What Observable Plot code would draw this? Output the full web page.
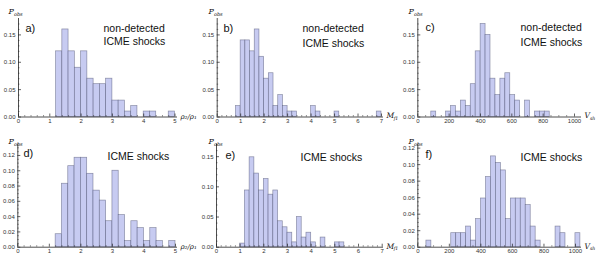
<!DOCTYPE html>
<html><head><meta charset="utf-8">
<script src="https://cdn.jsdelivr.net/npm/d3@7"></script>
<script src="https://cdn.jsdelivr.net/npm/@observablehq/plot@0.6"></script>
<style>
body{margin:0;background:#fff}
#wrap{position:relative;width:600px;height:260px;overflow:hidden;background:#fff}
#wrap > div{position:absolute;width:200px;height:130px}
#wrap svg{overflow:visible}
</style></head><body><div id="wrap"></div>
<script>
// ---------------- data ----------------
const panelLetters = ["a)", "b)", "c)", "d)", "e)", "f)"];
const groupTop = ["non-detected", "ICME shocks"];
const groupBottom = ["ICME shocks"];

// bins: start, width, probability per bin
const rhoBinStart = 1.2, rhoBinWidth = 0.2;
const machBinStartB = 0.8, machBinStartE = 1.0, machBinWidth = 0.2;
const speedBinStart = 54.5, speedBinWidth = 31.5;

const probA = [0.12, 0.16, 0.12, 0.09, 0.12, 0.07, 0.06, 0.06, 0.07, 0.03, 0.03, 0.01, 0.02, 0, 0.01, 0.01, 0, 0, 0.01];
const probB = [0.02, 0.14, 0.14, 0.12, 0.16, 0.11, 0.07, 0.08, 0.02, 0.04, 0.02, 0.01, 0.01, 0, 0, 0, 0.02, 0.01, 0, 0, 0, 0.01, 0, 0, 0, 0, 0, 0, 0, 0, 0.01];
const probC = [0, 0.01, 0, 0, 0.01, 0.02, 0.01, 0.03, 0.02, 0.06, 0.12, 0.17, 0.15, 0.07, 0.04, 0.07, 0.08, 0.04, 0.03, 0, 0.03, 0, 0.01, 0.01, 0.01];
const probD = [0.017, 0.083, 0.106, 0.117, 0.117, 0.096, 0.074, 0.061, 0.034, 0.100, 0.042, 0.008, 0.034, 0.025, 0.008, 0.025, 0.008, 0, 0.008];
const probE = [0.006, 0.094, 0.149, 0.122, 0.094, 0.113, 0.087, 0.094, 0.043, 0.033, 0.024, 0.008, 0.050, 0.016, 0.024, 0.008, 0, 0.016, 0, 0, 0.008, 0.008];
const probF = [0.008, 0, 0, 0, 0, 0.017, 0.017, 0.017, 0.025, 0.008, 0.034, 0.059, 0.085, 0.110, 0.102, 0.093, 0.034, 0.059, 0.059, 0.059, 0.051, 0.025, 0.008, 0, 0, 0, 0.025, 0.017, 0, 0, 0.017];

// tick labels
const rhoTicks = [0, 1, 2, 3, 4, 5];
const machTicks = [0, 1, 2, 3, 4, 5, 6, 7];
const speedTicks = [0, 200, 400, 600, 800, 1000];
const probTicks05 = [0, 0.05, 0.10, 0.15];
const probTicks02 = [0, 0.02, 0.04, 0.06, 0.08, 0.10, 0.12];

// axis names
const yName = ["P", "obs"];
const rhoName = "ρ₂/ρ₁";
const machName = ["M", "f1"];
const speedName = ["V", "sh"];

// ---------------- styling / layout ----------------
const BAR_FILL = "#c7cbf1";
const BAR_STROKE = "#3f4466";
const AXIS = "#222";
const TICKTXT = "#333";
const FONT = "Liberation Sans";
const GLYPH_W = {P: 0.68, M: 0.95, V: 0.72};

const panels = [
  {left:0,   top:0,   prob:probA, start:rhoBinStart,   w:rhoBinWidth,   ticks:rhoTicks,   minor:0.2, xName:"rho",   ml:18,   xMaxPx:174.5, fr:177, mt:18,   y0:116.5, yMax:0.18,  yTicks:probTicks05, yMinor:0.01,
   letter:[25,28], lines:groupTop, linePos:[[103,28],[103,41.5]]},
  {left:200, top:0,   prob:probB, start:machBinStartB, w:machBinWidth,  ticks:machTicks,  minor:0.2, xName:"mach",  ml:16.7, xMaxPx:181,   fr:183, mt:18,   y0:116.5, yMax:0.18,  yTicks:probTicks05, yMinor:0.01,
   letter:[23,28], lines:groupTop, linePos:[[102,28],[102,43]]},
  {left:400, top:0,   prob:probC, start:speedBinStart, w:speedBinWidth, ticks:speedTicks, minor:50,  xName:"speed", ml:17.3, xMaxPx:174,   fr:181, mt:18,   y0:116.5, yMax:0.18,  yTicks:probTicks05, yMinor:0.01,
   letter:[25,27], lines:groupTop, linePos:[[120,27],[120,42]]},
  {left:0,   top:130, prob:probD, start:rhoBinStart,   w:rhoBinWidth,   ticks:rhoTicks,   minor:0.2, xName:"rho",   ml:17.3, xMaxPx:175,   fr:177, mt:13.5, y0:116.7, yMax:0.135, yTicks:probTicks02, yMinor:0.005,
   letter:[23,23], lines:groupBottom, linePos:[[107,26]]},
  {left:200, top:130, prob:probE, start:machBinStartE, w:machBinWidth,  ticks:machTicks,  minor:0.2, xName:"mach",  ml:16,   xMaxPx:181.7, fr:183, mt:13.5, y0:116.7, yMax:0.171, yTicks:probTicks05, yMinor:0.01,
   letter:[25,25], lines:groupBottom, linePos:[[100,27]]},
  {left:400, top:130, prob:probF, start:speedBinStart, w:speedBinWidth, ticks:speedTicks, minor:50,  xName:"speed", ml:17.3, xMaxPx:175,   fr:181, mt:13.5, y0:116.7, yMax:0.125, yTicks:probTicks02, yMinor:0.005,
   letter:[25,24], lines:groupBottom, linePos:[[120,27]]}
];

function at(p, x, y, txt, opts) {
  return Plot.text([txt], {frameAnchor:"top-left", dx: x - p.ml, dy: y - p.mt, text: d => d,
    textAnchor:"start", lineAnchor:"middle", ...opts});
}
function subName(p, x, y, main, sub, size) {
  const gw = GLYPH_W[main] || 0.7;
  return [
    at(p, x, y, main, {fontSize:size, fontStyle:"italic", fontFamily:"DejaVu Serif", fill:"#111"}),
    at(p, x + size*gw, y + size*0.35, sub, {fontSize:size*0.62, fontStyle:"italic", fontFamily:"DejaVu Serif", fill:"#111"})
  ];
}

const wrap = document.getElementById("wrap");
panels.forEach((p, k) => {
  const bins = p.prob.map((v, i) => ({x1: p.start + i*p.w, x2: p.start + (i+1)*p.w, v})).filter(d => d.v > 0);
  const xMax = p.ticks[p.ticks.length - 1];
  const xMinor = d3.range(0, xMax + 1e-9, p.minor).filter(v => !p.ticks.some(t => Math.abs(t - v) < 1e-9));
  const yMinor = d3.range(0, p.yMax, p.yMinor).filter(v => !p.yTicks.some(t => Math.abs(t - v) < 1e-9));
  const marks = [
    Plot.rect(bins, {x1:"x1", x2:"x2", y1:0, y2:"v", fill:BAR_FILL, stroke:BAR_STROKE, strokeWidth:0.7, strokeOpacity:0.55}),
    Plot.ruleY([0], {stroke:AXIS, strokeWidth:0.8}),
    Plot.ruleX([0], {stroke:AXIS, strokeWidth:0.8}),
    Plot.axisX(p.ticks, {tickSize:0, tickPadding:2, tickFormat:d3.format("d"), fontSize:6, color:TICKTXT, label:null}),
    Plot.axisX(p.ticks, {tickSize:-3, tickFormat:() => "", label:null, stroke:AXIS, strokeWidth:0.7}),
    Plot.axisX(xMinor, {tickSize:-1.5, tickFormat:() => "", label:null, stroke:AXIS, strokeWidth:0.5}),
    Plot.axisY(p.yTicks, {tickSize:0, tickPadding:3, tickFormat:d3.format(".2f"), fontSize:6, color:TICKTXT, label:null}),
    Plot.axisY(p.yTicks, {tickSize:-3, tickFormat:() => "", label:null, stroke:AXIS, strokeWidth:0.7}),
    Plot.axisY(yMinor, {tickSize:-1.5, tickFormat:() => "", label:null, stroke:AXIS, strokeWidth:0.5}),
    at(p, p.letter[0], p.letter[1], panelLetters[k], {fontSize:11, fill:"#111", fontFamily:FONT}),
    ...p.lines.map((t, i) => at(p, p.linePos[i][0], p.linePos[i][1], t, {fontSize:10.5, fill:"#111", fontFamily:FONT})),
    ...subName(p, 8, 11, yName[0], yName[1], 8)
  ];
  if (p.xName === "rho") marks.push(at(p, p.fr + 3, p.y0, rhoName, {fontSize:7, fontStyle:"italic", fontFamily:"DejaVu Serif", fill:"#111"}));
  else if (p.xName === "mach") marks.push(...subName(p, p.fr + 3, p.y0 - 1, machName[0], machName[1], 7.5));
  else marks.push(...subName(p, p.fr + 3, p.y0 - 1, speedName[0], speedName[1], 7.5));

  const svg = Plot.plot({
    width:200, height:130,
    marginLeft:p.ml, marginRight:200 - p.fr, marginTop:p.mt, marginBottom:130 - p.y0,
    x:{domain:[0, xMax], range:[p.ml, p.xMaxPx]},
    y:{domain:[0, p.yMax]},
    style:{fontFamily:FONT, fontSize:"6px", background:"transparent", overflow:"visible"},
    marks
  });
  const div = document.createElement("div");
  div.style.left = p.left + "px";
  div.style.top = p.top + "px";
  div.appendChild(svg);
  wrap.appendChild(div);
});
</script>
</body></html>
